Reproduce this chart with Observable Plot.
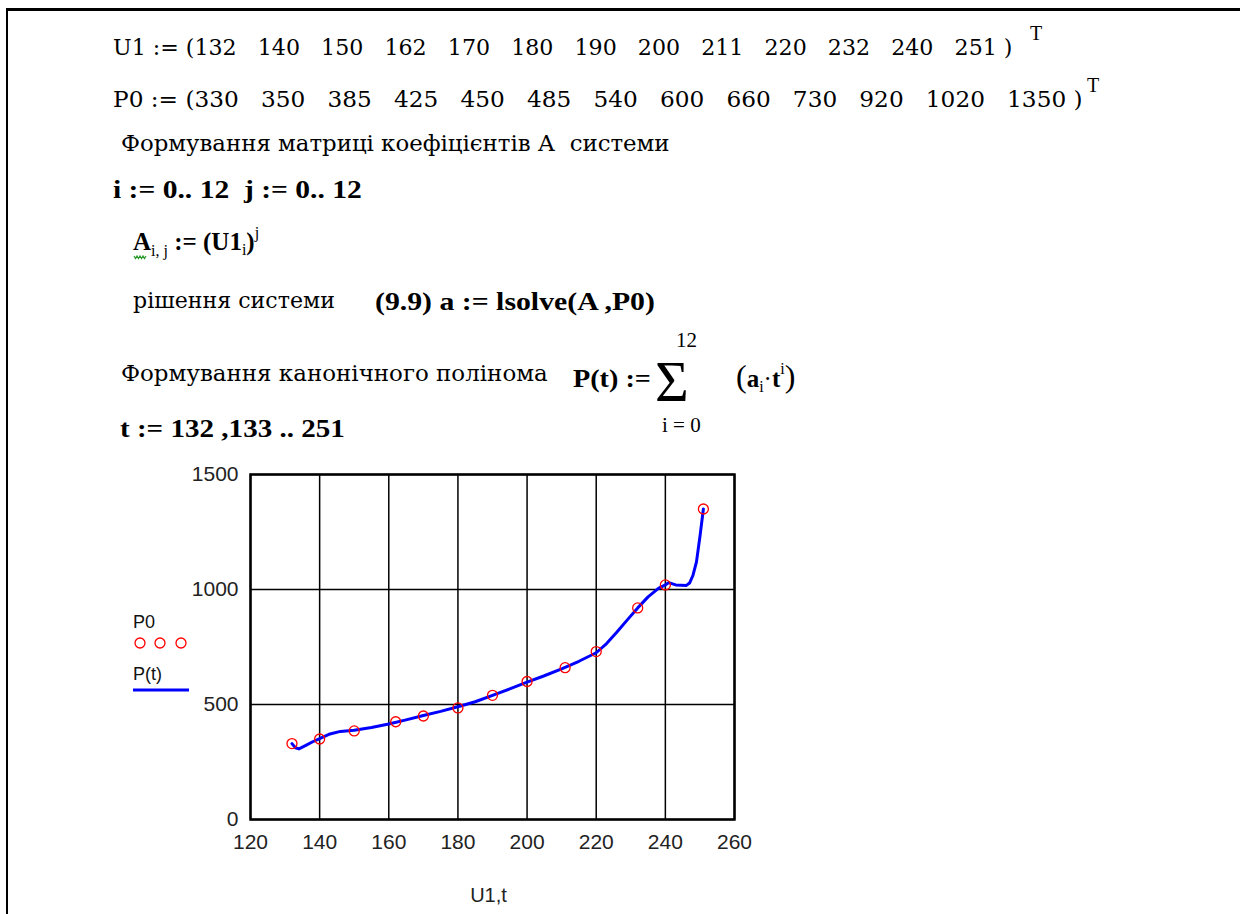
<!DOCTYPE html>
<html>
<head>
<meta charset="utf-8">
<script src="https://cdn.jsdelivr.net/npm/d3@7"></script>
<script src="https://cdn.jsdelivr.net/npm/@observablehq/plot@0.6"></script>
<style>
  html, body { margin: 0; padding: 0; background: #fff; }
  #page { position: relative; width: 1240px; height: 914px; overflow: hidden; background: #fff; }
  #frame { position: absolute; left: 6px; top: 8px; width: 1300px; height: 1000px;
           border-left: 2.5px solid #000; border-top: 3px solid #000; }
  #header { position: absolute; left: 0; top: 0; }
  #header text { font-family: 'Liberation Serif', 'DejaVu Serif', serif; white-space: pre; }
  #header text.r { font-family: 'DejaVu Serif', 'Liberation Serif', serif; }
  #legend { position: absolute; left: 120px; top: 600px; }
  #legend text { font-family: 'Liberation Sans', Arial, sans-serif; }
  #chart { position: absolute; left: 150px; top: 455px; }
</style>
</head>
<body>
<div id="page">
  <div id="frame"></div>
  <svg id="header" width="1240" height="460"></svg>
  <svg id="legend" width="90" height="100"></svg>
  <div id="chart"></div>
</div>
<script>
// ---- data ----
const U1 = [132, 140, 150, 162, 170, 180, 190, 200, 211, 220, 232, 240, 251];
const P0 = [330, 350, 385, 425, 450, 485, 540, 600, 660, 730, 920, 1020, 1350];
// P(t) curve, values
const curveT = [132, 133, 134, 136, 138, 140, 143, 146, 150, 155, 160, 165, 170, 175, 180, 185, 190, 195, 200, 205, 210, 215, 220, 223, 226, 229, 232, 235, 238, 240, 241, 243, 246, 247, 248, 249, 250, 251];
const curveP = [330, 312, 307, 322, 338, 352, 372, 383, 388, 400, 415, 433, 452, 470, 490, 512, 540, 568, 597, 625, 655, 688, 725, 765, 815, 868, 920, 968, 1005, 1020, 1030, 1020, 1017, 1028, 1062, 1120, 1230, 1350];
const xTicks = [120, 140, 160, 180, 200, 220, 240, 260];
const yTicks = [0, 500, 1000, 1500];
const xLabel = "U1,t";
const legendLabels = ["P0", "P(t)"];

const points = U1.map((u, i) => ({u, p: P0[i]}));
const curve = curveT.map((t, i) => ({t, p: curveP[i]}));

// ---- header (worksheet text) ----
const NS = "http://www.w3.org/2000/svg";
const header = document.getElementById("header");
function txt(parent, x, y, content, opts = {}) {
  const el = document.createElementNS(NS, "text");
  el.setAttribute("x", x);
  el.setAttribute("y", y);
  el.setAttribute("font-size", opts.size || 25);
  if (opts.bold) el.setAttribute("font-weight", "bold");
  if (opts.cls) el.setAttribute("class", opts.cls);
  if (opts.fill) el.setAttribute("fill", opts.fill);
  if (Array.isArray(content)) {
    for (const part of content) {
      const ts = document.createElementNS(NS, "tspan");
      ts.textContent = part.t;
      if (part.bold) ts.setAttribute("font-weight", "bold");
      if (part.size) ts.setAttribute("font-size", part.size);
      if (part.dy) ts.setAttribute("dy", part.dy);
      if (part.dx) ts.setAttribute("dx", part.dx);
      el.appendChild(ts);
    }
  } else el.textContent = content;
  parent.appendChild(el);
  if (opts.len) {
    const w = el.getComputedTextLength();
    if (w > 0) {
      const sx = opts.len / w;
      el.setAttribute("transform", `translate(${x},0) scale(${sx},1) translate(${-x},0)`);
    }
  }
  return el;
}

txt(header, 113, 55, "U1 := (" + U1.join("   ") + " )", {len: 900, size: 23, cls: "r"});
txt(header, 1030, 40, "T", {size: 20});
txt(header, 113, 107, "P0 := (" + P0.join("   ") + " )", {len: 970, size: 23, cls: "r"});
txt(header, 1087, 92, "T", {size: 20});
txt(header, 121, 151, "Формування матриці коефіцієнтів А  системи", {len: 549, size: 23, cls: "r"});
txt(header, 113, 198, "i := 0.. 12  j := 0.. 12", {bold: true, len: 249});
txt(header, 133, 250, [
  {t: "A", bold: true}, {t: "i, j", size: 16, dy: 6}, {t: " := (U1", bold: true, dy: -6},
  {t: "i", size: 16, dy: 5}, {t: ")", bold: true, dy: -5}, {t: "j", size: 16, dy: -12}
]);
// green wavy underline under A
(function () {
  const p = document.createElementNS(NS, "path");
  let d = "M134 256";
  for (let k = 0; k < 8; k++) d += ` l1.5 ${k % 2 ? -2.5 : 2.5}`;
  p.setAttribute("d", d);
  p.setAttribute("stroke", "#2a9a2a");
  p.setAttribute("fill", "none");
  p.setAttribute("stroke-width", "1.2");
  header.appendChild(p);
})();
txt(header, 133, 308, "рішення системи", {len: 202, size: 23, cls: "r"});
txt(header, 375, 310, "(9.9) a := lsolve(A ,P0)", {bold: true, len: 280});
txt(header, 121, 381, "Формування канонічного полінома", {len: 427, size: 23, cls: "r"});
txt(header, 573, 387, "P(t) :=", {bold: true, len: 78});
txt(header, 655, 401, "\u03A3", {size: 58});
txt(header, 676, 347, "12", {size: 21});
txt(header, 662, 432, "i = 0", {size: 21});
txt(header, 736, 387, [
  {t: "(", size: 32}, {t: "a", bold: true}, {t: "i", size: 16, dy: 5},
  {t: "\u00B7", dy: -5}, {t: "t", bold: true}, {t: "i", size: 16, dy: -13}, {t: ")", size: 32, dy: 13}
]);
txt(header, 120, 437, "t := 132 ,133 .. 251", {bold: true, len: 225});

// ---- legend ----
const legend = document.getElementById("legend");
txt(legend, 13, 28, legendLabels[0], {size: 18, fill: "#111"});
[20, 40, 61].forEach(cx => {
  const c = document.createElementNS(NS, "circle");
  c.setAttribute("cx", cx); c.setAttribute("cy", 43); c.setAttribute("r", 5);
  c.setAttribute("fill", "none"); c.setAttribute("stroke", "#ff0000"); c.setAttribute("stroke-width", 1.3);
  legend.appendChild(c);
});
txt(legend, 13, 80, legendLabels[1], {size: 18, fill: "#111"});
(function () {
  const l = document.createElementNS(NS, "line");
  l.setAttribute("x1", 13); l.setAttribute("x2", 69); l.setAttribute("y1", 90); l.setAttribute("y2", 90);
  l.setAttribute("stroke", "#0000ff"); l.setAttribute("stroke-width", 3);
  legend.appendChild(l);
})();

// ---- chart ----
const chart = Plot.plot({
  width: 620,
  height: 459,
  marginLeft: 100,
  marginRight: 36,
  marginTop: 19,
  marginBottom: 95,
  style: {fontFamily: "'Liberation Sans', Arial, sans-serif", fontSize: "21px", color: "#222", background: "transparent", overflow: "visible"},
  x: {domain: [120, 260], ticks: xTicks},
  y: {domain: [0, 1500], ticks: yTicks},
  marks: [
    Plot.gridX(xTicks, {stroke: "#000", strokeOpacity: 1, strokeWidth: 1.5}),
    Plot.gridY(yTicks, {stroke: "#000", strokeOpacity: 1, strokeWidth: 1.5}),
    Plot.axisX(xTicks, {tickSize: 0, tickPadding: 15, label: null, fontSize: 21, tickFormat: d => String(d)}),
    Plot.axisY(yTicks, {tickSize: 0, tickPadding: 12, label: null, fontSize: 21, tickFormat: d => String(d)}),
    Plot.line(curve, {x: "t", y: "p", stroke: "#0000ff", strokeWidth: 3, strokeLinejoin: "round"}),
    Plot.dot(points, {x: "u", y: "p", r: 5, stroke: "#ff0000", strokeWidth: 1.3, fill: "none"}),
    Plot.frame({stroke: "#000", strokeWidth: 2.5}),
    Plot.text([xLabel], {text: d => d, frameAnchor: "bottom", dy: 76, dx: -4, lineAnchor: "middle", fontSize: 20, fill: "#222"})
  ]
});
document.getElementById("chart").appendChild(chart);
</script>
</body>
</html>
